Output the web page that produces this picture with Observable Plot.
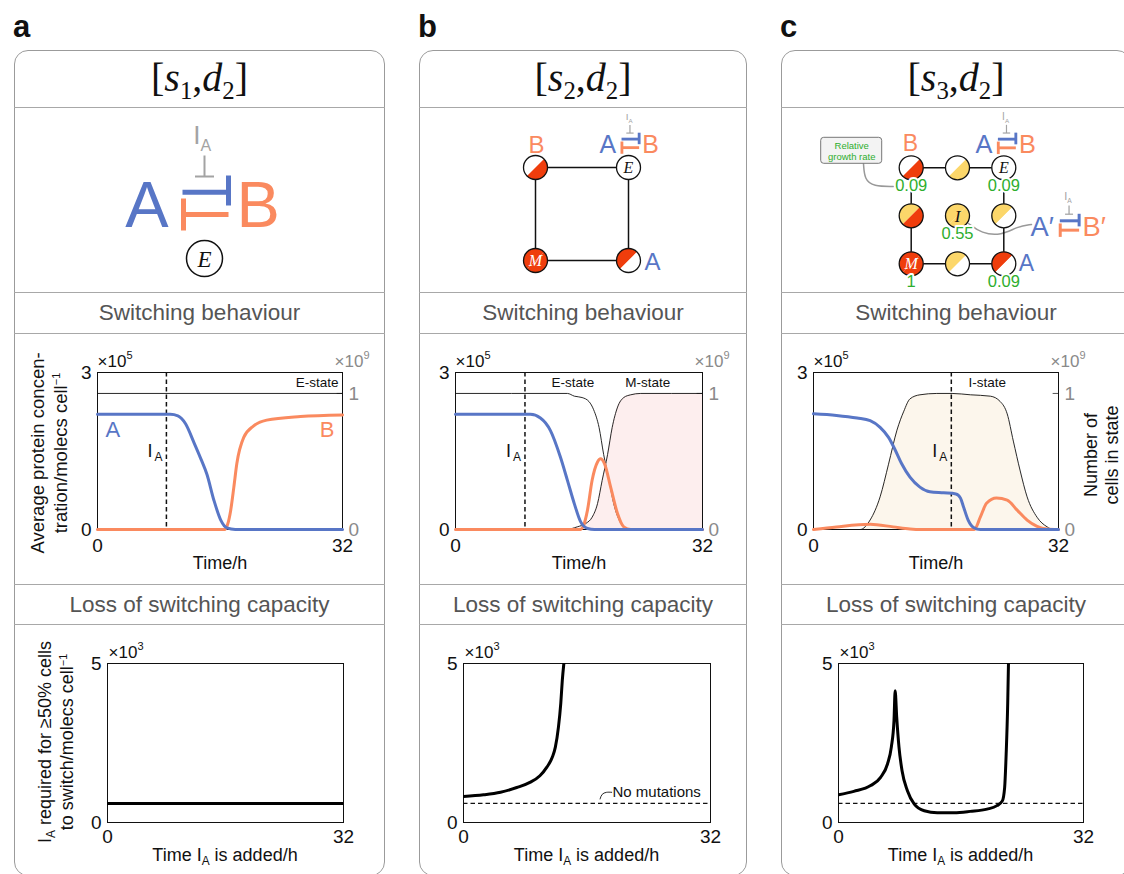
<!DOCTYPE html>
<html><head><meta charset="utf-8">
<script src="https://cdn.jsdelivr.net/npm/d3@7"></script>
<script src="https://cdn.jsdelivr.net/npm/@observablehq/plot@0.6"></script>
<style>
html,body{margin:0;padding:0;background:#fff;}
#root{position:relative;width:1124px;height:874px;overflow:hidden;font-family:"Liberation Sans",Arial,Helvetica,sans-serif;color:#111;}
.box{position:absolute;border:1.5px solid #9b9b9b;border-radius:14px;box-sizing:border-box;}
.sep{position:absolute;border-top:1.5px solid #a8a8a8;height:0;}
.hdr{position:absolute;text-align:center;font-size:22.5px;color:#555;height:41px;line-height:41px;}
.plabel{position:absolute;font-weight:bold;font-size:31px;line-height:31px;}
.title{position:absolute;text-align:center;font-family:"Liberation Serif","DejaVu Serif",serif;font-size:40px;height:57px;line-height:57px;}
.title sub{font-size:0.62em;vertical-align:-0.32em;line-height:0;font-style:normal;}
.rot{position:absolute;transform:translate(-50%,-50%) rotate(-90deg);white-space:nowrap;text-align:center;}
.lbl sup{font-size:0.6em;vertical-align:0.6em;line-height:0;}
.lbl sub{font-size:0.66em;vertical-align:-0.3em;line-height:0;}
.xl{position:absolute;transform:translateX(-50%);white-space:nowrap;font-size:18px;line-height:20px;}
.chart{position:absolute;}
.chart svg{max-width:none !important;display:block;}
</style></head><body><div id="root"></div>
<script>
// ---------------- DATA ----------------
const panelIds = ["a", "b", "c"];
const titleSubscripts = [["1", "2"], ["2", "2"], ["3", "2"]];
const sectionHeaders = ["Switching behaviour", "Loss of switching capacity"];

// time (h) , average protein concentration (x10^5 molecs/cell)
const aProteinA = [[0,2.2],[9.5,2.2],[10.5,2.17],[11.5,2.02],[12.6,1.66],[13.5,1.35],[14.3,1.05],[15.2,0.56],[16.1,0.18],[16.9,0.03],[18,0],[32,0]];
const aProteinB = [[0,0],[16.6,0],[17.0,0.1],[17.4,0.37],[17.8,0.8],[18.2,1.26],[19.1,1.76],[20.4,1.98],[22.1,2.09],[26.5,2.16],[32,2.19]];
const bProteinA = [[0,2.2],[9.7,2.2],[11.0,2.13],[12.3,1.89],[13.6,1.38],[14.5,0.94],[15.4,0.49],[16.2,0.15],[17.1,0.02],[18,0],[32,0]];
const bProteinB = [[0,0],[16.2,0],[16.6,0.08],[17.1,0.37],[17.7,0.94],[18.4,1.29],[18.8,1.35],[19.3,1.26],[20.1,0.81],[21.0,0.3],[21.8,0.05],[22.7,0],[32,0]];
const cProteinA = [[0,2.21],[3,2.18],[5.7,2.13],[7.4,2.08],[8.7,1.95],[9.8,1.76],[10.7,1.51],[11.5,1.26],[12.6,1.0],[13.9,0.81],[15.2,0.72],[17.0,0.70],[18.6,0.68],[19.2,0.6],[19.6,0.43],[20.2,0.18],[20.9,0.04],[21.8,0],[32,0]];
const cProteinB = [[0,0],[3,0.05],[7.4,0.1],[10.4,0.05],[12.6,0.01],[14,0],[21,0],[21.8,0.24],[22.6,0.5],[23.9,0.6],[25.3,0.56],[26.6,0.37],[27.9,0.18],[29.2,0.06],[30.5,0.01],[32,0]];

// number of cells in state (x10^9)
const aStateE = [[0,1],[32,1]];
const bStateE = [[0,1],[14.5,1],[15.4,0.98],[16.4,0.97],[17.3,0.94],[17.9,0.88],[18.6,0.75],[19.2,0.55],[19.9,0.36],[20.5,0.19],[21.2,0.07],[21.8,0.02],[23,0],[32,0]];
const bStateM = [[0,0],[14.3,0],[15.8,0.02],[16.9,0.045],[17.7,0.09],[18.4,0.19],[19.0,0.36],[19.7,0.55],[20.3,0.75],[21.0,0.9],[21.8,0.97],[22.7,0.99],[24,1],[32,1]];
const cStateI = [[0,0],[6.1,0],[7.4,0.07],[8.7,0.24],[9.8,0.48],[10.9,0.73],[11.8,0.87],[12.6,0.96],[13.9,0.99],[16.1,1.0],[18.1,1.0],[20.5,0.99],[23.1,0.98],[24.4,0.94],[25.3,0.85],[26.1,0.65],[27.0,0.43],[27.9,0.24],[29.2,0.09],[30.5,0.02],[31.3,0],[32,0]];

const iaAddedAt = [9, 9, 18];           // h
const stateNames = [["E-state"], ["E-state", "M-state"], ["I-state"]];

// I_A required for >=50% cells to switch (x10^3 molecs/cell) vs time I_A added (h)
const aLoss = [[0,0.6],[32,0.6]];
const bLoss = [[0,0.82],[2.6,0.87],[4.8,0.95],[6.9,1.1],[8.6,1.26],[9.9,1.47],[10.8,1.74],[11.5,2.05],[11.9,2.37],[12.3,3.0],[12.6,3.74],[12.8,4.47],[13.0,5.0]];
const cLoss = [[0,0.87],[2.0,0.98],[4.2,1.16],[5.5,1.42],[6.4,1.84],[6.9,2.37],[7.25,3.21],[7.4,4.14],[7.6,3.32],[7.9,2.37],[8.3,1.63],[9.0,1.0],[9.9,0.58],[11.2,0.37],[12.9,0.31],[15.1,0.31],[17.2,0.35],[19.4,0.42],[20.7,0.53],[21.4,0.68],[21.7,1.1],[21.9,2.16],[22.1,3.74],[22.2,5.0]];
const noMutationLevel = 0.6;

const timeTicks = [0, 32];
const proteinTicks = [0, 3];
const cellTicks = [0, 1];
const lossTicks = [0, 5];
const cellAxisTop = 1.154; // x10^9 at top of frame
const exponents = {protein: "5", cells: "9", loss: "3"};

// state-graph nodes (grid col,row; half colours upper-left / lower-right)
const bNodes = [
  {col:0,row:0,ul:"white",lr:"red"},
  {col:1,row:0,ul:"white",lr:"white",text:"E"},
  {col:0,row:1,ul:"red",lr:"red",text:"M"},
  {col:1,row:1,ul:"red",lr:"white"}];
const bEdges = [[0,1],[0,2],[1,3],[2,3]];
const cNodes = [
  {col:0,row:0,ul:"white",lr:"red",rate:"0.09"},
  {col:1,row:0,ul:"white",lr:"yellow"},
  {col:2,row:0,ul:"white",lr:"white",text:"E",rate:"0.09"},
  {col:0,row:1,ul:"yellow",lr:"red"},
  {col:1,row:1,ul:"yellow",lr:"yellow",text:"I",rate:"0.55"},
  {col:2,row:1,ul:"yellow",lr:"white"},
  {col:0,row:2,ul:"red",lr:"red",text:"M",rate:"1"},
  {col:1,row:2,ul:"yellow",lr:"white"},
  {col:2,row:2,ul:"red",lr:"white",rate:"0.09"}];
const cEdges = [[0,1],[1,2],[6,7],[7,8],[0,3],[3,6],[2,5],[5,8]];

// ---------------- STYLE ----------------
const BLUE = "#5876c6", ORANGE = "#fa8a5f", GRAY = "#a3a3a3", GREEN = "#2eae2e";
const nodeColor = {white:"#ffffff", red:"#ef3d0c", yellow:"#fcd76a"};
const SANS = '"Liberation Sans", Arial, Helvetica, sans-serif';
const SERIF = '"Liberation Serif", "DejaVu Serif", serif';
const boxes = [{left:14,width:371},{left:419,width:328},{left:781,width:350}];
const cellK = 3 / cellAxisTop;
const intFmt = d3.format("d");

const root = document.getElementById("root");
function html(tag, cls, style, inner) {
  const el = document.createElement(tag);
  if (cls) el.className = cls;
  el.style.cssText = style;
  el.innerHTML = inner || "";
  root.appendChild(el);
  return el;
}
function place(svg, left, top, width) {
  const d = html("div", "chart", `left:${left}px;top:${top}px;width:${width}px;`);
  d.appendChild(svg);
}

// ---------------- FRAMES ----------------
boxes.forEach((b, i) => {
  html("div", "plabel", `left:${b.left - 1}px;top:11px;`, panelIds[i]);
  html("div", "box", `left:${b.left}px;top:50px;width:${b.width}px;height:826px;`);
  for (const y of [107, 292, 333, 584, 624]) html("div", "sep", `left:${b.left}px;top:${y}px;width:${b.width}px;`);
  const [s1, s2] = titleSubscripts[i];
  html("div", "title", `left:${b.left}px;top:49px;width:${b.width}px;`,
    `[<i>s</i><sub>${s1}</sub>,<i>d</i><sub>${s2}</sub>]`);
  html("div", "hdr", `left:${b.left}px;top:292px;width:${b.width}px;`, sectionHeaders[0]);
  html("div", "hdr", `left:${b.left}px;top:584px;width:${b.width}px;`, sectionHeaders[1]);
});

// ---------------- DIAGRAMS ----------------
const halfLR = {draw(ctx, size) { const r = Math.sqrt(size / Math.PI);
  ctx.moveTo(r * Math.SQRT1_2, -r * Math.SQRT1_2); ctx.arc(0, 0, r, -Math.PI / 4, 3 * Math.PI / 4); ctx.closePath(); }};
const halfUL = {draw(ctx, size) { const r = Math.sqrt(size / Math.PI);
  ctx.moveTo(-r * Math.SQRT1_2, r * Math.SQRT1_2); ctx.arc(0, 0, r, 3 * Math.PI / 4, 7 * Math.PI / 4); ctx.closePath(); }};

function textMarks(list, extra = {}) {
  const groups = d3.groups(list, d => [d.anchor || "middle", d.family || SANS, d.style || "normal", d.line || "bottom"].join("|"));
  return groups.map(([k, items]) => {
    const [anchor, family, style, line] = k.split("|");
    return Plot.text(items, {x: "x", y: "y", text: "text", fill: "color", fontSize: "size",
      textAnchor: anchor, fontFamily: family, fontStyle: style, lineAnchor: line, ...extra});
  });
}

function glyph(cx, base, s, left, right) {
  const P = (dx, dy) => [cx + dx * s, base + dy * s];
  const lw = 5 * s + (s < 1 ? 0.9 : 0), gw = 2 * s + (s < 1 ? 0.4 : 0);
  const seg = (a, b, color, w) => ({x1: a[0], y1: a[1], x2: b[0], y2: b[1], color, w});
  const segs = [
    seg(P(-19.5, -35), P(26.5, -35), BLUE, lw), seg(P(26.5, -51.7), P(26.5, -21.7), BLUE, lw),
    seg(P(-18.5, -12.7), P(26.5, -12.7), ORANGE, lw), seg(P(-18.5, -28.7), P(-18.5, 3.3), ORANGE, lw),
    seg(P(2.5, -71.7), P(2.5, -50.7), GRAY, gw), seg(P(-7, -50.7), P(12, -50.7), GRAY, gw)];
  const txt = [
    {x: cx - 33.5 * s, y: base, text: left, anchor: "end", size: 65 * s, color: BLUE},
    {x: cx + 34.5 * s, y: base, text: right, anchor: "start", size: 65 * s, color: ORANGE},
    {x: cx - 1.5 * s, y: base - 83.7 * s, text: "I", anchor: "end", size: 26 * s, color: GRAY},
    {x: cx - 1.5 * s, y: base - 76.7 * s, text: "A", anchor: "start", size: 16 * s, color: GRAY}];
  return [Plot.link(segs, {x1: "x1", y1: "y1", x2: "x2", y2: "y2", stroke: "color", strokeWidth: "w"}), ...textMarks(txt)];
}

function graphMarks(nodes, edges, ox, oy, dx, dy, r) {
  const pts = nodes.map(n => ({...n, x: ox + n.col * dx, y: oy + n.row * dy}));
  const links = edges.map(([i, j]) => ({x1: pts[i].x, y1: pts[i].y, x2: pts[j].x, y2: pts[j].y}));
  const marks = [
    Plot.link(links, {x1: "x1", y1: "y1", x2: "x2", y2: "y2", stroke: "#111", strokeWidth: 1.5}),
    Plot.dot(pts, {x: "x", y: "y", r, fill: "white"}),
    Plot.dot(pts, {x: "x", y: "y", r, symbol: halfUL, fill: d => nodeColor[d.ul]}),
    Plot.dot(pts, {x: "x", y: "y", r, symbol: halfLR, fill: d => nodeColor[d.lr]}),
    Plot.dot(pts, {x: "x", y: "y", r, stroke: "#111", strokeWidth: 1.3, fill: "none"}),
    ...textMarks(pts.filter(d => d.text).map(d => ({x: d.x, y: d.y + 0.5, text: d.text,
      color: d.text === "M" ? "#fff" : "#111", size: d.text === "I" ? 17 : 16, family: SERIF, style: "italic", line: "middle"})))];
  return {pts, marks};
}

function diagram(width, marks) {
  return Plot.plot({width, height: 185, margin: 0,
    x: {domain: [0, width], range: [0, width], axis: null},
    y: {domain: [0, 185], range: [0, 185], axis: null},
    color: {type: "identity"}, style: {fontFamily: SANS, overflow: "visible"}, marks});
}

// panel a diagram
place(diagram(boxes[0].width, [
  ...glyph(187.5, 119.7, 1, "A", "B"),
  Plot.dot([{x: 190, y: 151}], {x: "x", y: "y", r: 18, stroke: "#111", strokeWidth: 1.5, fill: "white"}),
  ...textMarks([{x: 190, y: 152, text: "E", color: "#111", size: 23, family: SERIF, style: "italic", line: "middle"}])
]), boxes[0].left, 107, boxes[0].width);

// panel b diagram
{
  const g = graphMarks(bNodes, bEdges, 116, 60, 93, 93, 12);
  place(diagram(boxes[1].width, [
    ...g.marks,
    ...glyph(209.5, 45, 0.383, "A", "B"),
    ...textMarks([{x: 117, y: 45, text: "B", color: ORANGE, size: 24},
                  {x: 233, y: 162, text: "A", color: BLUE, size: 24}])
  ]), boxes[1].left, 107, boxes[1].width);
}

// panel c diagram
{
  const g = graphMarks(cNodes, cEdges, 129.7, 60.3, 46.3, 48, 12);
  const rates = g.pts.filter(d => d.rate).map(d => ({x: d.x, y: d.y + 23, text: d.rate, color: GREEN, size: 16.5}));
  place(diagram(boxes[2].width, [
    Plot.line([[82, 56], [83, 72], [92, 79], [112, 79]], {x: d => d[0], y: d => d[1], curve: "basis", stroke: "#999", strokeWidth: 1.5}),
    Plot.line([[187, 116], [200, 126], [220, 128], [236, 119], [250, 117]], {x: d => d[0], y: d => d[1], curve: "basis", stroke: "#999", strokeWidth: 1.5}),
    ...g.marks,
    ...textMarks(rates, {stroke: "white", strokeWidth: 4, paintOrder: "stroke"}),
    Plot.rect([{x1: 39.7, x2: 100.7, y1: 30.3, y2: 56.3}], {x1: "x1", x2: "x2", y1: "y1", y2: "y2", fill: "#f3f3f3", stroke: "#777", strokeWidth: 1, rx: 3}),
    ...textMarks([{x: 70.2, y: 43.5, text: "Relative\ngrowth rate", color: GREEN, size: 9.5, line: "middle"}], {lineHeight: 1.1}),
    ...glyph(224, 45.3, 0.39, "A", "B"),
    ...glyph(286.5, 128, 0.42, "A\u2032", "B\u2032"),
    ...textMarks([{x: 129, y: 43.7, text: "B", color: ORANGE, size: 23},
                  {x: 245, y: 163, text: "A", color: BLUE, size: 23}])
  ]), boxes[2].left, 107, boxes[2].width);
}

// ---------------- helpers for "×10^n" ----------------
function multiplier(exp, anchor, dx, fill) {
  return [
    Plot.text(["\u00d710"], {frameAnchor: anchor, textAnchor: "start", lineAnchor: "bottom", dx, dy: -6, fontSize: 17, fill}),
    Plot.text([exp], {frameAnchor: anchor, textAnchor: "start", lineAnchor: "bottom", dx: dx + 29, dy: -14, fontSize: 11, fill})];
}

// ---------------- TIME COURSE PLOTS ----------------
const curve = "monotone-x";
const X = d => d[0], Y = d => d[1], YC = d => d[1] * cellK;

function timeChart(cfg) {
  const marks = [];
  for (const st of cfg.states) if (st.fill) marks.push(Plot.areaY(st.data, {x: X, y: YC, fill: st.fill, curve}));
  marks.push(Plot.frame({stroke: "#111", strokeWidth: 1}));
  marks.push(Plot.ruleY([cellTicks[1] * cellK], {x1: 31.3, x2: 32, stroke: "#555", strokeWidth: 1}));
  for (const st of cfg.states) marks.push(Plot.line(st.data, {x: X, y: YC, stroke: "#111", strokeWidth: 0.9, curve}));
  marks.push(Plot.ruleX([cfg.ia], {stroke: "#111", strokeWidth: 1.5, strokeDasharray: "4.5,3"}));
  marks.push(Plot.text([cfg.ia], {x: d => d, y: 1.376, text: () => "I", textAnchor: "end", dx: -14, lineAnchor: "bottom", fontSize: 18}));
  marks.push(Plot.text([cfg.ia], {x: d => d, y: 1.30, text: () => "A", textAnchor: "end", dx: -4, lineAnchor: "bottom", fontSize: 12}));
  marks.push(Plot.line(cfg.B, {x: X, y: Y, stroke: ORANGE, strokeWidth: 3, curve}));
  marks.push(Plot.line(cfg.A, {x: X, y: Y, stroke: BLUE, strokeWidth: 3, curve}));
  marks.push(Plot.text(cfg.stateLabels, {x: "t", y: d => d.v * cellK, text: "name", fontSize: 13.5, lineAnchor: "bottom"}));
  for (const p of cfg.proteinLabels || [])
    marks.push(Plot.text([p], {x: "t", y: "v", text: "name", fill: p.color, fontSize: 22, lineAnchor: "bottom"}));
  marks.push(Plot.axisY({ticks: proteinTicks, tickFormat: intFmt, tickSize: 0, tickPadding: 6, label: null, fontSize: 19}));
  marks.push(Plot.axisY({anchor: "right", ticks: cellTicks.map(v => v * cellK), tickFormat: v => intFmt(Math.round(v / cellK)), tickSize: 0, tickPadding: 6, label: null, color: "#8a8a8a", fontSize: 19}));
  marks.push(Plot.axisX({ticks: timeTicks, tickFormat: intFmt, tickSize: 0, tickPadding: 9, label: null, fontSize: 19}));
  marks.push(...multiplier(exponents.protein, "top-left", 0, "#111"));
  marks.push(...multiplier(exponents.cells, "top-right", -8, "#8a8a8a"));
  marks.push(Plot.text(["Time/h"], {frameAnchor: "bottom", lineAnchor: "bottom", dy: 39, fontSize: 18}));
  return Plot.plot({width: cfg.width, height: 251, marginLeft: cfg.ml, marginRight: cfg.mr, marginTop: 39, marginBottom: 55,
    x: {domain: [0, 32]}, y: {domain: [0, 3]}, style: {fontFamily: SANS, fontSize: "18px", overflow: "visible"}, marks});
}

place(timeChart({width: boxes[0].width, ml: 83, mr: 43, A: aProteinA, B: aProteinB, ia: iaAddedAt[0],
  states: [{data: aStateE}],
  stateLabels: [{t: 28.7, v: 1.044, name: stateNames[0][0]}],
  proteinLabels: [{t: 2.0, v: 1.76, name: "A", color: BLUE}, {t: 30.0, v: 1.76, name: "B", color: ORANGE}]}), boxes[0].left, 333, boxes[0].width);
place(timeChart({width: boxes[1].width, ml: 36, mr: 45, A: bProteinA, B: bProteinB, ia: iaAddedAt[1],
  states: [{data: bStateM, fill: "#fdeeee"}, {data: bStateE}],
  stateLabels: [{t: 15.2, v: 1.044, name: stateNames[1][0]}, {t: 24.9, v: 1.044, name: stateNames[1][1]}]}), boxes[1].left, 333, boxes[1].width);
place(timeChart({width: boxes[2].width, ml: 32, mr: 73, A: cProteinA, B: cProteinB, ia: iaAddedAt[2],
  states: [{data: cStateI, fill: "#fcf6ec"}],
  stateLabels: [{t: 22.7, v: 1.044, name: stateNames[2][0]}]}), boxes[2].left, 333, boxes[2].width);

// ---------------- LOSS OF SWITCHING PLOTS ----------------
function lossChart(cfg) {
  const marks = [Plot.frame({stroke: "#111", strokeWidth: 1})];
  if (cfg.dashed) marks.push(Plot.ruleY([noMutationLevel], {stroke: "#111", strokeWidth: 1.3, strokeDasharray: "4.5,3"}));
  if (cfg.note) {
    marks.push(Plot.line([[17.7, 0.74], [17.9, 0.9], [18.5, 0.96], [19.2, 0.95]], {x: X, y: Y, curve: "basis", stroke: "#111", strokeWidth: 0.9}));
    marks.push(Plot.text(["No mutations"], {x: 19.3, y: 0.8, textAnchor: "start", lineAnchor: "bottom", fontSize: 15}));
  }
  marks.push(Plot.line(cfg.data, {x: X, y: Y, stroke: "#000", strokeWidth: 3, curve, clip: true}));
  marks.push(Plot.axisY({ticks: lossTicks, tickFormat: intFmt, tickSize: 0, tickPadding: 6, label: null, fontSize: 19}));
  marks.push(Plot.axisX({ticks: timeTicks, tickFormat: intFmt, tickSize: 0, tickPadding: 7, label: null, fontSize: 19}));
  marks.push(...multiplier(exponents.loss, "top-left", 1, "#111"));
  return Plot.plot({width: cfg.width, height: 250, marginLeft: cfg.ml, marginRight: cfg.mr, marginTop: 39, marginBottom: 52,
    x: {domain: [0, 32]}, y: {domain: [0, 5]}, style: {fontFamily: SANS, fontSize: "18px", overflow: "visible"}, marks});
}
place(lossChart({width: boxes[0].width, ml: 93, mr: 42, data: aLoss}), boxes[0].left, 624, boxes[0].width);
place(lossChart({width: boxes[1].width, ml: 44, mr: 37, data: bLoss, dashed: true, note: true}), boxes[1].left, 624, boxes[1].width);
place(lossChart({width: boxes[2].width, ml: 57, mr: 48, data: cLoss, dashed: true}), boxes[2].left, 624, boxes[2].width);

// ---------------- AXIS TITLES ----------------
html("div", "rot lbl", "left:48.5px;top:453px;font-size:18.5px;line-height:23px;",
  "Average protein concen-<br>tration/molecs cell<sup>\u22121</sup>");
html("div", "rot lbl", "left:1102px;top:455px;font-size:18px;line-height:21px;",
  "Number of<br>cells in state");
html("div", "rot lbl", "left:56px;top:742px;font-size:18px;line-height:22px;",
  "I<sub>A</sub> required for \u226550% cells<br>to switch/molecs cell<sup>\u22121</sup>");
for (const cx of [225, 586.5, 960.5])
  html("div", "xl lbl", `left:${cx}px;top:845px;`, "Time I<sub>A</sub> is added/h");
</script></body></html>
